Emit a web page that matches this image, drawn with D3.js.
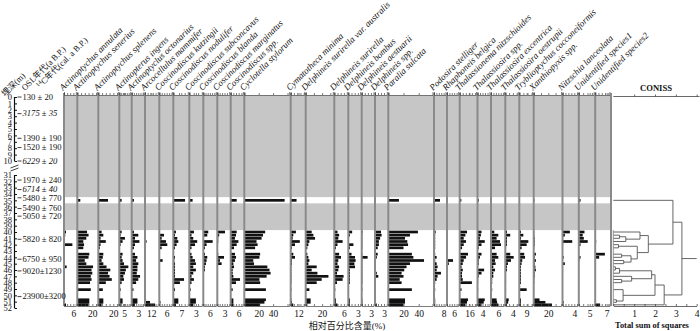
<!DOCTYPE html>
<html>
<head>
<meta charset="utf-8">
<script src="https://cdn.jsdelivr.net/npm/d3@7"></script>
<style>
  body { margin: 0; background: #fff; }
  text { font-family: "Liberation Serif", "Noto Sans CJK SC", serif; fill: #111; }
</style>
</head>
<body>
<svg id="chart" width="700" height="331"></svg>
<script>
// ---- data ----
const taxa = [
  "Actinoptychus annulata", "Actinoptychus senerius", "Actinoptychus splenens",
  "Actinopterus ingens", "Actinoptyclus octonarius", "Arcocellulus mammifer",
  "Coscinodiscus kutzingii", "Coscinodiscus nodulifer", "Coscinodiscus subconcavus",
  "Coscinodiscus blanda", "Coscinodiscus marginatus", "Coscinodiscus spp.",
  "Cyclotella stylorum", "Cymatotheca minima", "Delphineis surirella var. australis",
  "Delphineis surirella", "Delphineis bombus", "Delphineis aestuarii", "Delphineis spp.",
  "Paralia sulcata", "Podosira stelliger", "Rhaphoneis belgica",
  "Thalassionema nitzschioides", "Thalassiosira spp.", "Thalassiosira excentrica",
  "Thalassiosira oestrupii", "Tryblioptychus cocconeiformis", "Xanthiopyxis spp.",
  "Nitzschia lanceolata", "Unidentified species1", "Unidentified species2"
];

// sample depths (m)
const depths = [35, 40, 40.5, 41, 41.5, 42, 42.5, 43.5, 44, 44.5, 45, 45.5, 46, 46.5, 47, 47.5, 48, 49.1, 50.7, 51.1, 51.5];

// relative abundance (%) per taxon, one value per sample depth
const pct = [
  [0, 1.3, 0.8, 0.6, 0.6, 5.4, 0.6, 0.6, 0.6, 0.3, 0.3, 1.7, 0.6, 0.6, 0.6, 0.6, 0.6, 0.6, 0.6, 0.6, 1.3],
  [4, 13, 15, 12, 8, 9, 8, 16, 15, 10, 12, 21, 19, 20, 18, 19, 17, 18, 16, 16, 15],
  [13, 4.4, 6.7, 3, 10, 3, 2, 6.7, 6, 4.4, 6.7, 11, 16, 13, 15, 18, 10, 6, 6.7, 6.7, 4.4],
  [2.5, 2.5, 1.4, 6, 3.5, 1.4, 0.7, 3.5, 2.5, 3.5, 5, 9.6, 7, 6, 4.3, 5, 2.5, 1.4, 3.5, 3.5, 1.4],
  [1, 1, 3, 1.5, 3.5, 1.5, 1, 1.5, 2.6, 2, 3, 2.6, 2.6, 2.3, 3.8, 3, 2, 0.8, 2.6, 2.6, 1.5],
  [0, 0, 0, 0, 3, 0, 0, 0, 0, 0, 0, 0, 0, 0, 0, 0, 0, 0, 2, 9.4, 19],
  [0, 0, 3.8, 1.9, 5.4, 6.5, 1.9, 0.5, 0.5, 2.7, 0.5, 0.5, 0.5, 0.5, 0.5, 0.5, 0.5, 0.5, 0.5, 1, 0.5],
  [10.3, 2.3, 1.5, 3.5, 4.4, 2.9, 1.5, 0.6, 1.5, 0.9, 1.5, 1.5, 1.5, 1.5, 1.5, 9.4, 5.8, 1.5, 4.4, 4.4, 2.3],
  [1.5, 2.1, 1, 1.8, 3.6, 2.6, 1, 1, 1.5, 2.6, 3, 1.8, 3, 1.8, 1, 2.1, 1, 0.6, 3, 3, 1.8],
  [0, 4.5, 3.6, 0.6, 8.5, 3, 1.5, 1.5, 3.6, 3, 2.4, 1.5, 1.5, 0.6, 0.6, 0.6, 0.6, 0.6, 0.6, 0.6, 0.6],
  [0, 3.2, 0.8, 0.4, 0.4, 0, 0, 0.4, 2.8, 1.1, 1.8, 0, 0, 0, 0, 0, 0, 0, 0, 0, 0],
  [4.5, 4.5, 4, 3.2, 5.8, 4.5, 2.5, 3.2, 4, 3.2, 2, 2.5, 1.5, 1.5, 2, 7, 4, 1.5, 2, 2, 2],
  [56, 29, 26, 24, 17, 18.5, 15, 22, 21, 12.5, 13.5, 32, 35, 36.5, 31, 21, 22, 30, 30, 28, 22],
  [9, 8, 4, 3, 14, 6.6, 2, 4, 6.6, 2, 2, 1, 1, 1, 1, 1, 1, 1, 1, 2, 4],
  [0, 7.3, 9.4, 11.4, 4.5, 3.3, 2, 2, 3.3, 4.5, 3.3, 13.4, 7.3, 14.3, 27.7, 19.5, 13.4, 4.5, 6, 6, 2],
  [0, 2, 3, 2.5, 5.2, 2, 1, 3, 4.2, 2.5, 2, 3, 2.5, 1.7, 5.8, 5.2, 1.7, 0.6, 1, 1, 2],
  [0, 1.2, 0.5, 0.2, 0.2, 1.6, 0.5, 1, 2.1, 2.3, 1.9, 2.1, 0.5, 0.5, 0.5, 0.5, 0.5, 0.2, 0.5, 0.5, 0.5],
  [0, 0.3, 0.2, 0.2, 0.2, 0.2, 0.2, 0.2, 1.9, 0.2, 0.2, 0.2, 0.2, 0.2, 0.2, 0.2, 0.2, 0.2, 0.2, 0.2, 0.2],
  [0, 2, 2.2, 1.7, 1.3, 1.3, 0.9, 0.9, 0.6, 0.2, 0.2, 0.2, 0.2, 0.6, 1.1, 0.2, 0.2, 0.2, 0.2, 0.2, 0.6],
  [14, 39, 28.5, 22, 25, 26, 20, 31, 33, 47, 28.5, 24, 21, 17.5, 20, 15, 17.5, 31, 22, 22, 20],
  [5, 1.4, 1, 1, 1, 1, 1, 1, 2.2, 1, 2.2, 3, 2.2, 5.8, 3, 2.2, 1, 1, 1, 1, 1],
  [0, 0.5, 0.5, 0.5, 0.5, 0.5, 0.5, 0.5, 0.5, 5, 1.5, 0.5, 0.5, 0.5, 0.5, 0.5, 0.5, 0.5, 0.5, 0.5, 0.5],
  [2.7, 12, 9.3, 6.6, 10.4, 6.6, 3.8, 13.6, 10.4, 6.6, 5, 3, 5, 3.8, 3.8, 5, 20, 3, 13.6, 12, 9.3],
  [1, 3.2, 2.7, 1.9, 5.8, 3.2, 1, 3.2, 1.9, 1, 1, 0.5, 5.3, 3.2, 1, 0.5, 0.5, 0.5, 5.8, 5, 3.2],
  [0.5, 2.7, 6, 4.6, 7.4, 8.2, 3.3, 4.6, 6, 3.3, 3.8, 1.9, 3.3, 1.9, 1.9, 1, 1, 1, 4.6, 5, 6],
  [0, 0.9, 2.6, 0.9, 0.9, 0.9, 0.4, 2.6, 4.4, 3, 1.4, 0.9, 0.9, 0.4, 0.4, 0.4, 0.4, 0.4, 1.8, 1.5, 0.9],
  [0, 2, 4.9, 2, 11, 9, 2.8, 6, 7, 3.6, 2.8, 2, 2, 2, 2, 2, 2, 9, 2, 2, 2],
  [1, 0.7, 0.7, 1.4, 1.4, 1.4, 0.7, 3, 1.4, 3, 1.4, 2.3, 3, 1.4, 1.4, 0.7, 0.7, 0.5, 8, 16, 25],
  [0, 2.5, 0.8, 0.2, 3.3, 0.2, 0, 0, 0.4, 0, 0.8, 0, 0, 0, 0, 0, 0, 0, 0, 0.4, 0],
  [0.8, 2.6, 1.8, 2.3, 4.1, 0.8, 0, 0, 0.8, 0.3, 0, 0, 0, 0, 0, 0, 0, 0, 0, 0, 0],
  [0, 0, 0, 0, 0.6, 0, 0, 5.9, 2.4, 0, 0, 0, 0, 0, 0, 0, 0, 0, 0, 0, 3]
];

// labelled ticks on each panel's bottom axis
const tickLabels = [[6], [20], [20], [5], [3], [12], [6], [7], [3], [6], [3], [6], [20, 40], [12], [20],
  [6], [3], [3], [3], [20, 40], [8], [6], [16], [4], [6], [4], [9], [20], [4], [5], [7]];

const depthTicks = d3.range(0, 11).concat(d3.range(31, 53));

// dated levels on the depth axis
const ageDepths = [0, 2.6, 6.45, 7.9, 10, 31.8, 33.3, 34.6, 36.3, 37.5, 41.15, 44.3, 46.15, 50.2];
const ageTexts = ["130 ± 20", "3175 ± 35", "1390 ± 190", "1520 ± 190", "6229 ± 20", "1970 ± 240",
  "6714 ± 40", "5480 ± 770", "5490 ± 760", "5050 ± 720", "5820 ± 820", "6750 ± 950",
  "9020±1230", "23900±3200"];
const ageC14 = [false, true, false, false, true, false, true, false, false, false, false, false, false, false];

// CONISS clustering: [left, right, total sum of squares]; leaves are sample depths
const coniss = [
  [35, [[40, [[40.5, 41, 0.3], 41.5, 0.6], 1.28],
        [[42, 42.5, 0.25], [[43.5, 44, 0.4], [44.5, 45, 0.5], 0.85], 1.15], 1.68], 2.86],
  [[[[[45.5, 46, 0.1], 46.5, 0.3], [47, [47.5, 48, 0.4], 0.88], 1.84],
     [49.1, [50.7, 51.1, 0.15], 0.47], 2.0], 51.5, 2.44],
  3.29];
const conissMax = 4;

// ---- layout ----
const panelLeft = [64, 77.3, 98.3, 119.3, 131.7, 145, 159.3, 173.3, 189.3, 203.3, 217.3, 230.7, 244.3,
  290.7, 305.7, 334.3, 348.3, 361.7, 375, 388.3, 434, 447, 459.7, 477.5, 491, 505.3, 519.3, 533.7,
  562.5, 578.8, 595.2];
const pxPerPct = [1.55, 0.75, 0.75, 0.94, 2.2, 0.53, 1.23, 1.14, 2.2, 1.1, 2.4, 1.33, 0.72, 0.65, 0.82,
  1.6, 3.2, 3.1, 3.0, 0.76, 1.2, 1.2, 0.61, 1.25, 1.22, 1.9, 0.82, 0.73, 2.95, 2.18, 1.64];

const plotTop = 95, plotBottom = 306, dendroLeft = 611;
const barHalf = 1.35;

const svg = d3.select("#chart");

const y = d3.scaleLinear().domain([0, 10, 31, 52]).range([97, 161, 175, 308]);
const dx = d3.scaleLinear().domain([0, conissMax]).range([613.3, 696.7]);

// grey: levels without samples
svg.append("rect")
    .attr("x", panelLeft[0]).attr("y", plotTop + 0.5)
    .attr("width", dendroLeft - panelLeft[0]).attr("height", y(35) - 3.2 - plotTop - 0.5)
    .attr("fill", "#c6c6c6");
svg.append("rect")
    .attr("x", panelLeft[0]).attr("y", y(35) + 3)
    .attr("width", dendroLeft - panelLeft[0]).attr("height", y(39.7) - y(35) - 3)
    .attr("fill", "#c6c6c6");

const panels = taxa.map((name, i) => {
    const left = panelLeft[i];
    const right = (i < taxa.length - 1 ? panelLeft[i + 1] : dendroLeft) - 1.5;
    const x = d3.scaleLinear().domain([0, (right - left) / pxPerPct[i]]).range([left, right]);
    return {name, left, right, x, values: pct[i], labels: tickLabels[i]};
});

panels.forEach(p => {
    const g = svg.append("g");

    // bars
    g.selectAll("rect")
        .data(depths.map((d, j) => ({depth: d, v: p.values[j]})).filter(d => d.v > 0))
        .join("rect")
        .attr("x", p.left)
        .attr("y", d => y(d.depth) - barHalf)
        .attr("width", d => p.x(d.v) - p.left)
        .attr("height", barHalf * 2)
        .attr("fill", "#111");

    // panel zero line
    g.append("line")
        .attr("x1", p.left).attr("x2", p.left)
        .attr("y1", plotTop - 2).attr("y2", plotBottom)
        .attr("stroke", "#8a8a8a").attr("stroke-width", 2);

    const tv = Array.from(new Set(p.x.ticks(4).concat(p.labels))).sort((a, b) => a - b);

    g.append("g")
        .attr("transform", `translate(0,${plotTop})`)
        .call(d3.axisTop(p.x).tickValues(tv).tickSize(2).tickSizeOuter(3).tickFormat(""))
        .call(a => a.selectAll("path,line").attr("stroke", "#444").attr("stroke-width", 0.7));

    g.append("g")
        .attr("transform", `translate(0,${plotBottom})`)
        .call(d3.axisBottom(p.x).tickValues(tv).tickSize(-2).tickSizeOuter(-2).tickPadding(4)
            .tickFormat(d => p.labels.includes(d) ? d : ""))
        .call(a => a.selectAll("path,line").attr("stroke", "#444").attr("stroke-width", 0.7))
        .call(a => a.selectAll("text").attr("font-size", 9.5).attr("font-family", "Liberation Serif").attr("fill", "#111"));

    // taxon name
    g.append("text")
        .attr("transform", `translate(${p.left - 1},${plotTop - 4}) rotate(-45)`)
        .attr("font-size", 9)
        .attr("font-style", "italic")
        .text(p.name);
});

// end line of the diatom diagram
svg.append("line")
    .attr("x1", dendroLeft).attr("x2", dendroLeft)
    .attr("y1", plotTop - 2).attr("y2", plotBottom)
    .attr("stroke", "#8a8a8a").attr("stroke-width", 2);

// ---- depth axis ----
const axisX = 14.5;
svg.append("g")
    .attr("transform", `translate(${axisX},0)`)
    .call(d3.axisLeft(y).tickValues(depthTicks).tickSize(-2.5).tickPadding(2.5).tickFormat(d3.format("d")))
    .call(a => a.select(".domain").remove())
    .call(a => a.selectAll("line").attr("stroke", "#111"))
    .call(a => a.selectAll("text").attr("font-size", 8.5).attr("font-family", "Liberation Serif").attr("fill", "#111"));

[[0, 10], [31, 52]].forEach(([a, b]) => {
    svg.append("line")
        .attr("x1", axisX).attr("x2", axisX)
        .attr("y1", y(a)).attr("y2", y(b))
        .attr("stroke", "#111").attr("stroke-width", 1.2);
});
// axis break
[0, 3].forEach(o => {
    svg.append("line")
        .attr("x1", axisX - 4).attr("x2", axisX + 4)
        .attr("y1", y(10) + 7 + o).attr("y2", y(10) + 4 + o)
        .attr("stroke", "#111").attr("stroke-width", 0.8);
});

// ages
svg.append("g").selectAll("g")
    .data(ageDepths.map((d, i) => ({d, t: ageTexts[i], c: ageC14[i]})))
    .join("g")
    .each(function (a) {
        const gg = d3.select(this);
        gg.append("line")
            .attr("x1", 17.5).attr("x2", 21.5)
            .attr("y1", y(a.d)).attr("y2", y(a.d))
            .attr("stroke", "#111").attr("stroke-width", 0.8);
        gg.append("text")
            .attr("x", 22.5).attr("y", y(a.d)).attr("dy", "0.33em")
            .attr("font-size", 8.6)
            .attr("font-style", a.c ? "italic" : "normal")
            .text(a.t);
    });

// left column headers
const hdr = svg.append("g");
hdr.append("text")
    .attr("transform", "translate(5,97) rotate(-45)")
    .attr("font-size", 8.5).text("埋深(m)");
hdr.append("text")
    .attr("transform", "translate(25,91) rotate(-45)")
    .attr("font-size", 8.5).text("OSL年代(a B.P.)");
const c14 = hdr.append("text")
    .attr("transform", "translate(40,89) rotate(-45)")
    .attr("font-size", 8.5);
c14.append("tspan").attr("font-size", 6).attr("dy", -3).text("14");
c14.append("tspan").attr("dy", 3).text("C年代(cal. a B.P.)");

// ---- CONISS dendrogram ----
const root = d3.hierarchy(coniss, d => Array.isArray(d) ? d.slice(0, 2) : null);
root.eachAfter(n => {
    if (!n.children) { n.px = dx(0); n.py = y(n.data); }
    else { n.px = dx(n.data[2]); n.py = d3.mean(n.children, c => c.py); }
});
const dg = svg.append("g").attr("fill", "none").attr("stroke", "#555").attr("stroke-width", 0.9);
root.descendants().filter(n => n.children).forEach(n => {
    dg.append("line")
        .attr("x1", n.px).attr("x2", n.px)
        .attr("y1", n.children[0].py).attr("y2", n.children[1].py);
    n.children.forEach(c => {
        dg.append("line")
            .attr("x1", c.px).attr("x2", n.px)
            .attr("y1", c.py).attr("y2", c.py);
    });
});
dg.append("line")
    .attr("x1", root.px).attr("x2", dx(conissMax))
    .attr("y1", root.py).attr("y2", root.py);
dg.append("line")
    .attr("x1", dx(0)).attr("x2", dx(0))
    .attr("y1", y(39.7)).attr("y2", plotBottom)
    .attr("stroke", "#888");

svg.append("g")
    .attr("transform", `translate(0,${plotTop + 1.5})`)
    .call(d3.axisTop(dx).tickValues(d3.range(1, conissMax + 1)).tickSize(2).tickSizeOuter(0).tickFormat(""))
    .call(a => a.selectAll("path,line").attr("stroke", "#444").attr("stroke-width", 0.8))
    .call(a => a.select(".domain").attr("d", `M${dx(0)},0H699.5`));

svg.append("g")
    .attr("transform", `translate(0,${plotBottom})`)
    .call(d3.axisBottom(dx).tickValues(d3.range(0, conissMax + 0.01, 0.5)).tickSize(-2).tickSizeOuter(0).tickPadding(4)
        .tickFormat(d => Number.isInteger(d) && d > 0 ? d : ""))
    .call(a => a.selectAll("path,line").attr("stroke", "#444").attr("stroke-width", 0.8))
    .call(a => a.selectAll("text").attr("font-size", 9.5).attr("font-family", "Liberation Serif").attr("fill", "#111"));

svg.append("text")
    .attr("x", 656).attr("y", 91)
    .attr("text-anchor", "middle").attr("font-size", 8.6).attr("font-weight", "bold")
    .text("CONISS");
svg.append("text")
    .attr("x", 652).attr("y", 328)
    .attr("text-anchor", "middle").attr("font-size", 8.4).attr("font-weight", "bold")
    .text("Total sum of squares");

svg.append("text")
    .attr("x", 347).attr("y", 329)
    .attr("text-anchor", "middle").attr("font-size", 9)
    .text("相对百分比含量(%)");
</script>
</body>
</html>
